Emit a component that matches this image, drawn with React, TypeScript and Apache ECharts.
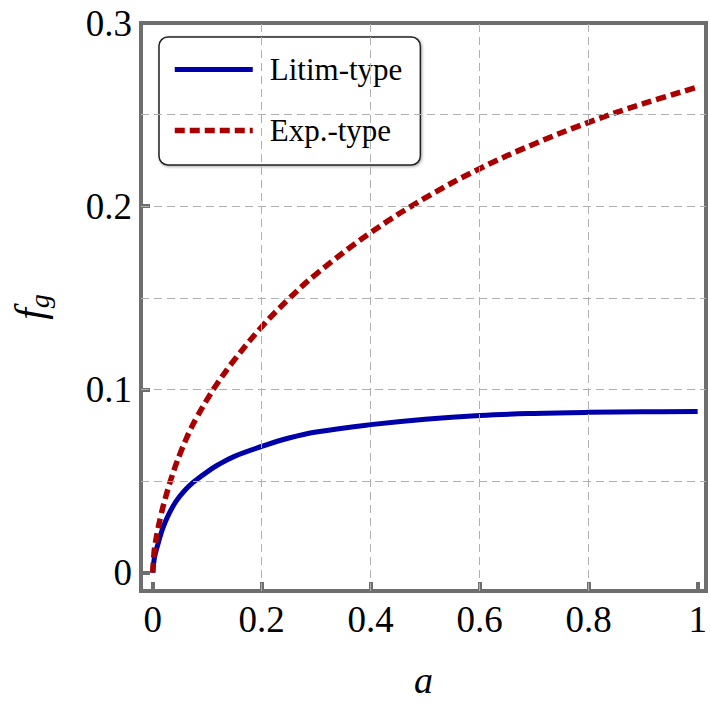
import React, { useEffect, useRef } from "react";
import * as echarts from "echarts";

const aValues = [0, 0.0025, 0.005, 0.01, 0.015, 0.02, 0.03, 0.04, 0.05, 0.06, 0.07, 0.08, 0.1, 0.12, 0.15, 0.2, 0.25, 0.3, 0.4, 0.5, 0.6, 0.7, 0.8, 0.9, 1.0];
const litimValues = [0, 0.007, 0.0106, 0.016, 0.0211, 0.0255, 0.0322, 0.0376, 0.0418, 0.0453, 0.0482, 0.0506, 0.055, 0.0589, 0.0635, 0.0689, 0.0735, 0.0768, 0.0808, 0.0838, 0.0858, 0.0869, 0.0875, 0.0878, 0.088];
const expValues = [0, 0.011, 0.0163, 0.0245, 0.0312, 0.0372, 0.0476, 0.0568, 0.0648, 0.072, 0.0786, 0.0843, 0.0946, 0.1039, 0.1162, 0.1342, 0.1495, 0.163, 0.1856, 0.2045, 0.2205, 0.234, 0.2458, 0.256, 0.265];
const xTicks = [0, 0.2, 0.4, 0.6, 0.8, 1];
const yTicks = [0, 0.1, 0.2, 0.3];
const xGrid = [0.2, 0.4, 0.6, 0.8];
const yGrid = [0.05, 0.1, 0.15, 0.2, 0.25];
const seriesNames = ["Litim-type", "Exp.-type"];

const SERIF = "'Liberation Serif', 'Times New Roman', serif";
const FRAME = "#6e6e6e";
const BLUE = "#0000aa";
const RED = "#aa0000";

export default function App() {
  const ref = useRef<HTMLDivElement>(null);
  useEffect(() => {
    if (!ref.current) return;
    const chart = echarts.init(ref.current, undefined, { renderer: "svg" });
    const pairs = (ys: number[]) => aValues.map((a, i) => [a, ys[i]]);
    chart.setOption({
      animation: false,
      backgroundColor: "#ffffff",
      grid: {
        left: 141,
        right: 4,
        top: 23,
        bottom: 117,
        containLabel: false,
        outerBoundsMode: "none",
        show: true,
        borderColor: FRAME,
        borderWidth: 4,
        backgroundColor: "transparent",
      },
      xAxis: {
        type: "value",
        min: -0.0215,
        max: 1.0153,
        name: "a",
        nameLocation: "middle",
        nameGap: 70,
        nameTextStyle: { fontFamily: SERIF, fontStyle: "italic", fontSize: 38, color: "#000" },
        axisLine: { show: false, onZero: false },
        splitLine: { show: false },
        axisTick: {
          show: true,
          inside: true,
          length: 9,
          customValues: xTicks,
          lineStyle: { color: FRAME, width: 4 },
        },
        axisLabel: {
          customValues: xTicks,
          fontFamily: SERIF,
          fontSize: 37,
          color: "#000",
          margin: 10,
          formatter: (v: number) => String(v),
        },
      },
      yAxis: {
        type: "value",
        min: -0.01,
        max: 0.3,
        name: "{f|f}{g|g}",
        nameLocation: "middle",
        nameGap: 88,
        nameRotate: 90,
        nameTextStyle: {
          fontFamily: SERIF,
          fontStyle: "italic",
          fontSize: 42,
          color: "#000",
          rich: {
            f: { fontFamily: SERIF, fontStyle: "italic", fontSize: 42, color: "#000" },
            g: { fontFamily: SERIF, fontStyle: "italic", fontSize: 28, color: "#000", padding: [18, 0, 0, 0] },
          },
        },
        axisLine: { show: false, onZero: false },
        splitLine: { show: false },
        axisTick: {
          show: true,
          inside: true,
          length: 9,
          customValues: yTicks,
          lineStyle: { color: FRAME, width: 4 },
        },
        axisLabel: {
          customValues: yTicks,
          fontFamily: SERIF,
          fontSize: 37,
          color: "#000",
          margin: 9,
          formatter: (v: number) => String(v),
        },
      },
      legend: {
        show: true,
        left: 159,
        top: 37,
        orient: "vertical",
        data: [
          { name: seriesNames[0], lineStyle: { width: 5 } },
          { name: seriesNames[1], lineStyle: { width: 5.5 } },
        ],
        itemWidth: 78,
        itemHeight: 30,
        itemGap: 30,
        itemStyle: { opacity: 0 },
        padding: [17, 18, 19, 13],
        backgroundColor: "#ffffff",
        borderColor: "#222222",
        borderWidth: 1.5,
        borderRadius: 9,
        shadowColor: "rgba(0,0,0,0.35)",
        shadowBlur: 3,
        shadowOffsetX: 1,
        shadowOffsetY: 1,
        textStyle: { fontFamily: SERIF, fontSize: 31, color: "#000", padding: [0, 4, 0, 12] },
      },
      series: [
        {
          name: "grid",
          type: "line",
          data: [],
          z: 1,
          silent: true,
          markLine: {
            silent: true,
            symbol: "none",
            label: { show: false },
            lineStyle: { color: "#b0b0b0", width: 1, type: [8, 5] },
            emphasis: { disabled: true },
            data: [
              ...xGrid.map((v) => ({ xAxis: v })),
              ...yGrid.map((v) => ({ yAxis: v })),
            ],
          },
        },
        {
          name: seriesNames[0],
          type: "line",
          data: pairs(litimValues),
          smooth: 0.4,
          symbol: "none",
          z: 3,
          lineStyle: { color: BLUE, width: 5 },
          itemStyle: { color: BLUE },
        },
        {
          name: seriesNames[1],
          type: "line",
          data: pairs(expValues),
          smooth: 0.4,
          symbol: "none",
          z: 4,
          lineStyle: { color: RED, width: 5.5, type: [10, 5] },
          itemStyle: { color: RED },
        },
      ],
    });
    return () => chart.dispose();
  }, []);
  return (
    <div
      ref={ref}
      style={{ position: "fixed", left: 0, top: 0, width: 710, height: 708, background: "#fff" }}
    />
  );
}
